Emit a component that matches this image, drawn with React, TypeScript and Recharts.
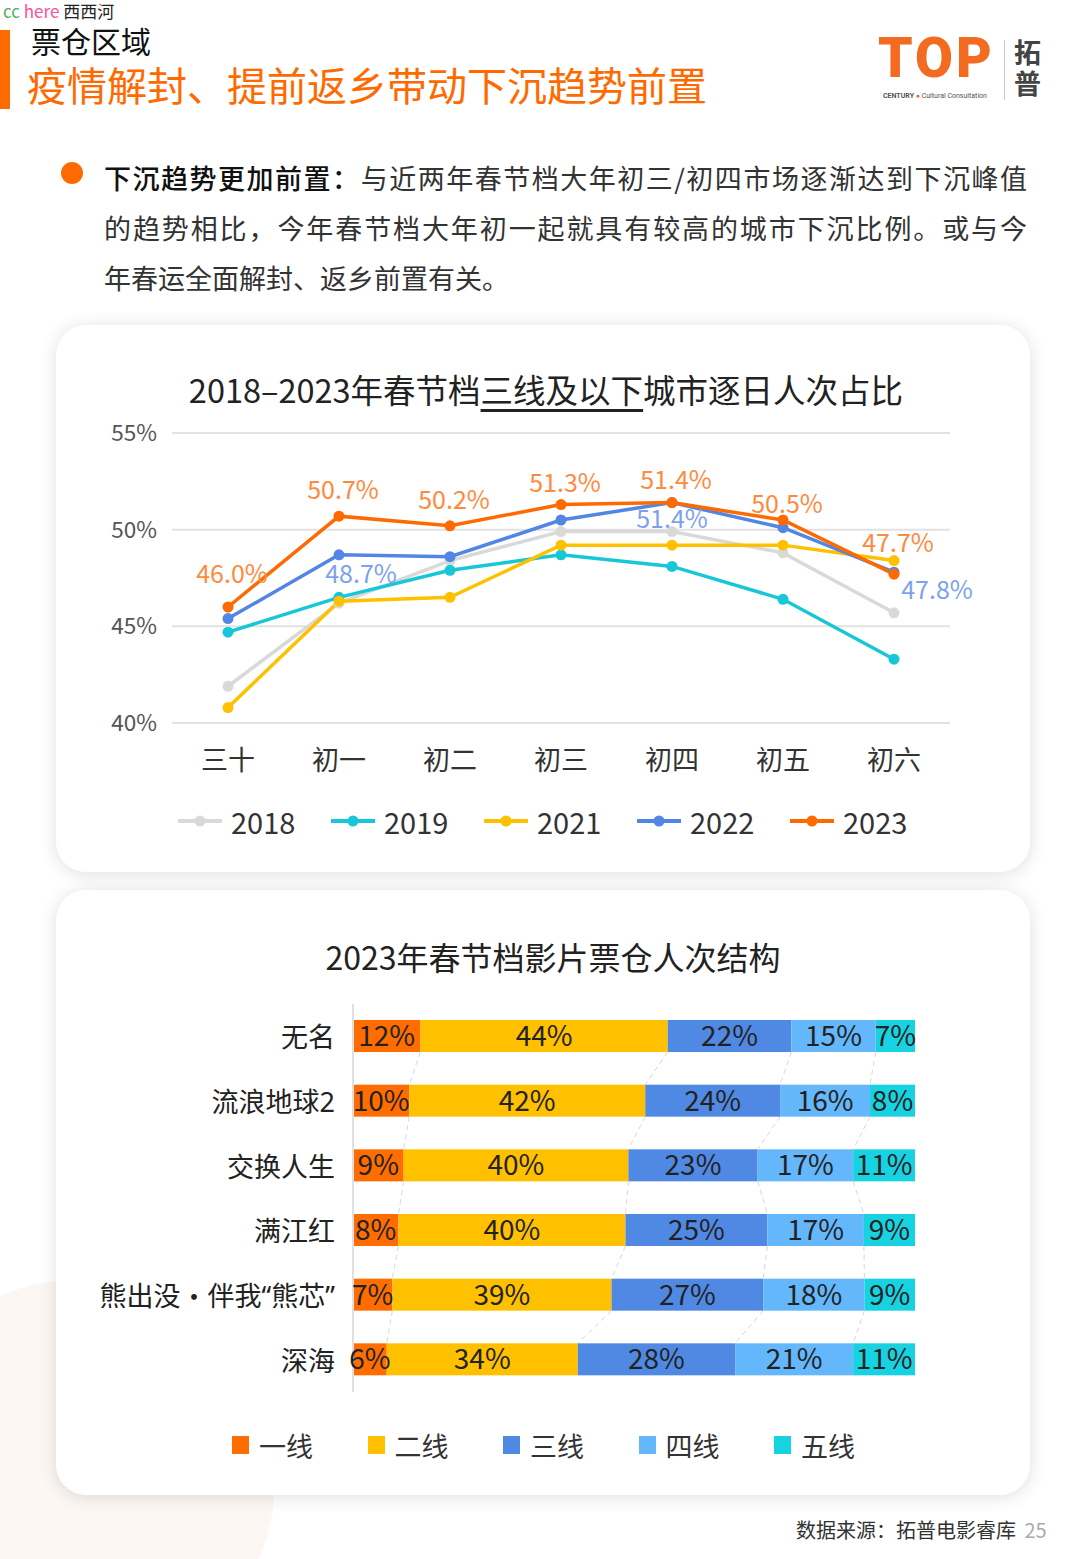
import React from 'react';
import {
  LineChart,
  Line,
  BarChart,
  Bar,
  XAxis,
  YAxis,
  CartesianGrid,
  Legend,
  LabelList,
} from 'recharts';

const FONT = '"Noto Sans CJK SC", "Noto Sans", sans-serif';
const LABEL_FONT = '"Noto Sans", "Noto Sans CJK SC", sans-serif';

// line chart data
const days = ['三十', '初一', '初二', '初三', '初四', '初五', '初六'];
const years = ['2018', '2019', '2021', '2022', '2023'];
const share2018 = [41.9, 46.2, 48.4, 49.9, 49.9, 48.8, 45.7];
const share2019 = [44.7, 46.5, 47.9, 48.7, 48.1, 46.4, 43.3];
const share2021 = [40.8, 46.3, 46.5, 49.2, 49.2, 49.2, 48.4];
const share2022 = [45.4, 48.7, 48.6, 50.5, 51.4, 50.1, 47.8];
const share2023 = [46.0, 50.7, 50.2, 51.3, 51.4, 50.5, 47.7];
const yTicks = [40, 45, 50, 55];

// bar chart data
const films = ['无名', '流浪地球2', '交换人生', '满江红', '熊出没·伴我“熊芯”', '深海'];
const tiers = ['一线', '二线', '三线', '四线', '五线'];
const tier1 = [12, 10, 9, 8, 7, 6];
const tier2 = [44, 42, 40, 40, 39, 34];
const tier3 = [22, 24, 23, 25, 27, 28];
const tier4 = [15, 16, 17, 17, 18, 21];
const tier5 = [7, 8, 11, 9, 9, 11];

const LINE_COLORS = ['#d9d9d9', '#17c7d8', '#ffc000', '#5285e4', '#ff6a00'];
const BAR_COLORS = ['#ff6d00', '#ffc000', '#5089e3', '#63b7fa', '#17d3e2'];

const lineData = days.map((d, i) => ({
  day: d,
  y2018: share2018[i],
  y2019: share2019[i],
  y2021: share2021[i],
  y2022: share2022[i],
  y2023: share2023[i],
}));

const tierCols = [tier1, tier2, tier3, tier4, tier5];
const barData = films.map((f, i) => ({
  name: f,
  t1: tier1[i],
  t2: tier2[i],
  t3: tier3[i],
  t4: tier4[i],
  t5: tier5[i],
}));

// label placement tweaks (style only)
const ORANGE_LIFT = [35, 28, 28, 24, 25, 18, 33];
const BLUE_LABEL_AT: Record<number, [number, number]> = { 1: [22, 17], 4: [0, 14], 6: [43, 16] };

const OrangeLabel = (props: any) => {
  const { x, y, value, index } = props;
  return (
    <text x={x + 4} y={y - ORANGE_LIFT[index]} textAnchor="middle" dominantBaseline="central"
      fill="#ff8a3d" fontSize={25} fontFamily={FONT}>
      {Number(value).toFixed(1)}%
    </text>
  );
};

const BlueLabel = (props: any) => {
  const { x, y, value, index } = props;
  const pos = BLUE_LABEL_AT[index];
  if (!pos) return null;
  return (
    <text x={x + pos[0]} y={y + pos[1]} textAnchor="middle" dominantBaseline="central"
      fill="#7ea1ec" fontSize={25} fontFamily={FONT}>
      {Number(value).toFixed(1)}%
    </text>
  );
};

// film names: latin punctuation narrow, middle dot full width
const FilmTick = (props: any) => {
  const { x, y, payload } = props;
  const parts = String(payload.value).split('·');
  return (
    <text x={x} y={y} textAnchor="end" dominantBaseline="central" fontSize={27} fill="#222" fontFamily={LABEL_FONT}>
      {parts.map((p, i) => (
        <React.Fragment key={i}>
          {i > 0 && <tspan fontFamily={FONT}>·</tspan>}
          <tspan>{p}</tspan>
        </React.Fragment>
      ))}
    </text>
  );
};

const LineLegend = () => (
  <div style={{ display: 'flex', justifyContent: 'flex-start', paddingLeft: 122, height: 40, alignItems: 'center' }}>
    {years.map((yr, i) => (
      <div key={yr} style={{ display: 'flex', alignItems: 'center', marginRight: 33 }}>
        <svg width={44} height={12} style={{ marginRight: 9 }}>
          <line x1={0} y1={6} x2={44} y2={6} stroke={LINE_COLORS[i]} strokeWidth={4} strokeLinecap="round" />
          <circle cx={22} cy={6} r={5.5} fill={LINE_COLORS[i]} />
        </svg>
        <span style={{ fontSize: 29, color: '#333', fontFamily: FONT, width: 67 }}>{yr}</span>
      </div>
    ))}
  </div>
);

const BarLegend = () => (
  <div style={{ display: 'flex', paddingLeft: 176, height: 40, alignItems: 'center' }}>
    {tiers.map((t, i) => (
      <div key={t} style={{ display: 'flex', alignItems: 'center', width: 135.5 }}>
        <span style={{ width: 17, height: 18, background: BAR_COLORS[i], marginRight: 10, display: 'inline-block' }} />
        <span style={{ fontSize: 27, color: '#333', fontFamily: FONT }}>{t}</span>
      </div>
    ))}
  </div>
);

// bar chart geometry
const BAR_W = 974;
const BAR_H = 605;
const BAR_MARGIN = { top: 114, right: 115, bottom: 63, left: 0 };
const BAR_LEGEND_H = 40;
const ROW_STEP = (BAR_H - BAR_MARGIN.top - BAR_MARGIN.bottom - BAR_LEGEND_H) / films.length;

const cumFrac = (row: number, k: number) => {
  let total = 0;
  let upto = 0;
  tierCols.forEach((col, j) => {
    total += col[row];
    if (j <= k) upto += col[row];
  });
  return upto / total;
};

const makeSegment = (k: number) => (props: any) => {
  const { x, y, width, height, index, fill } = props;
  const prev = k === 0 ? 0 : cumFrac(index, k - 1);
  const cur = cumFrac(index, k);
  const scaleW = width / (cur - prev);
  const left = x - prev * scaleW;
  const right = x + width;
  const showLink = k < 4 && index < films.length - 1;
  const nextRight = showLink ? left + cumFrac(index + 1, k) * scaleW : 0;
  return (
    <g>
      <rect x={x} y={y} width={width} height={height} fill={fill} />
      {showLink && (
        <line x1={right} y1={y + height} x2={nextRight} y2={y + ROW_STEP}
          stroke="#d6d6d6" strokeWidth={1} strokeDasharray="5 4" />
      )}
    </g>
  );
};

const card: React.CSSProperties = {
  position: 'absolute',
  left: 56,
  width: 974,
  background: '#fff',
  borderRadius: 30,
  boxShadow: '0 2px 18px rgba(0,0,0,0.13)',
};

export default function App() {
  return (
    <div style={{ position: 'absolute', left: 0, top: 0, width: 1080, height: 1559, background: '#fff', overflow: 'hidden', fontFamily: FONT }}>
      {/* faint background shape */}
      <div style={{ position: 'absolute', left: -120, top: 1280, width: 395, height: 400, borderRadius: '50%', background: '#fdf7f4' }} />

      {/* header */}
      <div style={{ position: 'absolute', left: 3, top: 1, fontSize: 17, lineHeight: '20px' }}>
        <span style={{ color: '#4caf50' }}>cc</span>{' '}
        <span style={{ color: '#ff4fa3' }}>here</span>{' '}
        <span style={{ color: '#222' }}>西西河</span>
      </div>
      <div style={{ position: 'absolute', left: 0, top: 30, width: 10, height: 79, background: '#ff6a00' }} />
      <div style={{ position: 'absolute', left: 31, top: 24, fontSize: 30, lineHeight: '32px', color: '#111' }}>票仓区域</div>
      <div style={{ position: 'absolute', left: 27, top: 62, fontSize: 40, lineHeight: '44px', color: '#ff6a00' }}>
        疫情解封、提前返乡带动下沉趋势前置
      </div>

      {/* logo */}
      <div style={{ position: 'absolute', left: 878, top: 26, fontSize: 55, lineHeight: '64px', fontWeight: 900, color: '#f26b21', fontFamily: 'Roboto, sans-serif', letterSpacing: 3 }}>
        TOP
      </div>
      <div style={{ position: 'absolute', left: 883, top: 91, fontSize: 7, lineHeight: '10px', color: '#555', fontFamily: 'Roboto, sans-serif' }}>
        <b>CENTURY</b> <span style={{ color: '#f26b21' }}>●</span> Cultural Consultation
      </div>
      <div style={{ position: 'absolute', left: 1004, top: 40, width: 1, height: 60, background: '#ccc' }} />
      <div style={{ position: 'absolute', left: 1014, top: 36, fontSize: 27, lineHeight: '31px', fontWeight: 700, color: '#444', width: 34 }}>
        <div>拓</div>
        <div>普</div>
      </div>

      {/* bullet paragraph */}
      <div style={{ position: 'absolute', left: 61, top: 162, width: 22, height: 22, borderRadius: '50%', background: '#ff6a00' }} />
      <div style={{ position: 'absolute', left: 104, top: 153, width: 923, fontSize: 27, lineHeight: '50px', color: '#333' }}>
        <div style={{ textAlign: 'justify', textAlignLast: 'justify' }}>
          <span style={{ color: '#111', fontWeight: 500 }}>下沉趋势更加前置：</span>与近两年春节档大年初三/初四市场逐渐达到下沉峰值
        </div>
        <div style={{ textAlign: 'justify', textAlignLast: 'justify' }}>
          的趋势相比，今年春节档大年初一起就具有较高的城市下沉比例。或与今
        </div>
        <div>年春运全面解封、返乡前置有关。</div>
      </div>

      {/* line chart card */}
      <div style={{ ...card, top: 325, height: 547 }}>
        <div style={{ position: 'absolute', left: 0, top: 42, width: 974, textAlign: 'center', fontSize: 32.5, lineHeight: '44px', color: '#222', paddingLeft: 6, boxSizing: 'border-box' }}>
          2018–2023年春节档<span style={{ textDecoration: 'underline', textUnderlineOffset: 6 }}>三线及以下</span>城市逐日人次占比
        </div>
        <LineChart width={974} height={547} data={lineData} margin={{ top: 108, right: 80, bottom: 49, left: 0 }}>
          <CartesianGrid vertical={false} stroke="#e2e2e2" strokeWidth={2} />
          <XAxis dataKey="day" axisLine={false} tickLine={false} padding={{ left: 56, right: 56 }}
            tick={{ fontSize: 27, fill: '#333', fontFamily: FONT }} tickMargin={22} height={60} interval={0} />
          <YAxis domain={[40, 55]} ticks={yTicks} axisLine={false} tickLine={false} width={116} tickMargin={9}
            tickFormatter={(v) => `${v}%`} tick={{ fontSize: 22.5, fill: '#555', fontFamily: FONT }} />
          <Legend verticalAlign="bottom" content={<LineLegend />} wrapperStyle={{ top: 476, left: 0, width: 974, height: 40 }} />
          <Line dataKey="y2018" stroke={LINE_COLORS[0]} strokeWidth={3.5} dot={{ r: 5.5, fill: LINE_COLORS[0], stroke: 'none' }} isAnimationActive={false} />
          <Line dataKey="y2019" stroke={LINE_COLORS[1]} strokeWidth={3.5} dot={{ r: 5.5, fill: LINE_COLORS[1], stroke: 'none' }} isAnimationActive={false} />
          <Line dataKey="y2021" stroke={LINE_COLORS[2]} strokeWidth={3.5} dot={{ r: 5.5, fill: LINE_COLORS[2], stroke: 'none' }} isAnimationActive={false} />
          <Line dataKey="y2022" stroke={LINE_COLORS[3]} strokeWidth={3.5} dot={{ r: 5.5, fill: LINE_COLORS[3], stroke: 'none' }} isAnimationActive={false}>
            <LabelList dataKey="y2022" content={<BlueLabel />} />
          </Line>
          <Line dataKey="y2023" stroke={LINE_COLORS[4]} strokeWidth={3.5} dot={{ r: 5.5, fill: LINE_COLORS[4], stroke: 'none' }} isAnimationActive={false}>
            <LabelList dataKey="y2023" content={<OrangeLabel />} />
          </Line>
        </LineChart>
      </div>

      {/* bar chart card */}
      <div style={{ ...card, top: 890, height: 605 }}>
        <div style={{ position: 'absolute', left: 0, top: 44, width: 974, textAlign: 'center', fontSize: 32, lineHeight: '44px', color: '#222', paddingLeft: 20, boxSizing: 'border-box' }}>
          2023年春节档影片票仓人次结构
        </div>
        <BarChart width={BAR_W} height={BAR_H} data={barData} layout="vertical" stackOffset="expand" margin={BAR_MARGIN} barSize={32}>
          <XAxis type="number" hide domain={[0, 1]} />
          <YAxis type="category" dataKey="name" width={297} tickLine={false} axisLine={{ stroke: '#e0e0e0', strokeWidth: 2 }}
            tickMargin={12} tick={<FilmTick />} interval={0} />
          <Legend verticalAlign="bottom" content={<BarLegend />} wrapperStyle={{ top: 535, left: 0, width: 974, height: BAR_LEGEND_H }} />
          {['t1', 't2', 't3', 't4', 't5'].map((key, k) => (
            <Bar key={key} dataKey={key} stackId="a" fill={BAR_COLORS[k]} shape={makeSegment(k)} isAnimationActive={false}>
              <LabelList dataKey={key} position="center" formatter={(v: any) => `${v}%`}
                style={{ fontSize: 28, fill: '#222', fontFamily: FONT }} />
            </Bar>
          ))}
        </BarChart>
      </div>

      {/* footer */}
      <div style={{ position: 'absolute', left: 796, top: 1516, fontSize: 20, lineHeight: '28px', color: '#333' }}>
        数据来源：拓普电影睿库 <span style={{ color: '#aaa', marginLeft: 4 }}>25</span>
      </div>
    </div>
  );
}
